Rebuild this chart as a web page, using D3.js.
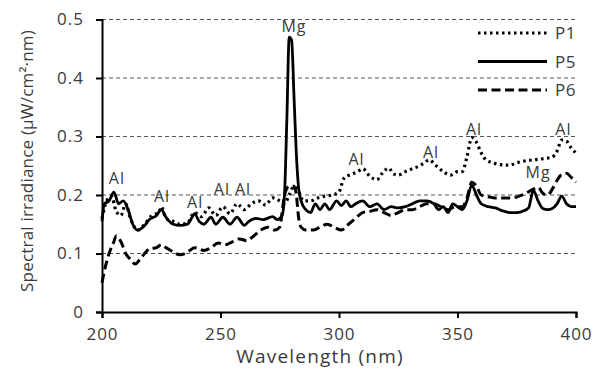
<!DOCTYPE html>
<html>
<head>
<meta charset="utf-8">
<script src="https://cdn.jsdelivr.net/npm/d3@7"></script>
<style>
  body { margin: 0; background: #fff; }
  svg text { font-family: "Open Sans", Lato, sans-serif; fill: #3a3a3a; }
</style>
</head>
<body>
<svg id="chart" width="603" height="369"></svg>
<script>
// wavelength (nm) / irradiance pairs
const p1 = [[200,0.16],[202,0.19],[204,0.198],[206,0.172],[208,0.165],[210,0.185],[212,0.16],[215,0.14],[218,0.15],[221,0.165],[224,0.17],[225,0.18],[227,0.16],[230,0.155],[233,0.15],[236,0.152],[239,0.17],[242,0.163],[245,0.178],[248,0.165],[251,0.18],[254,0.168],[257,0.185],[260,0.175],[263,0.185],[266,0.19],[269,0.183],[272,0.195],[275,0.19],[277,0.185],[279,0.2],[281,0.215],[283,0.205],[285,0.19],[288,0.19],[291,0.195],[294,0.198],[297,0.2],[300,0.205],[302,0.228],[305,0.235],[308,0.24],[310,0.245],[313,0.232],[316,0.226],[318,0.236],[321,0.246],[323,0.236],[325,0.234],[328,0.24],[331,0.245],[334,0.25],[336,0.255],[338,0.26],[341,0.25],[344,0.24],[347,0.234],[350,0.24],[352,0.24],[354,0.265],[356,0.298],[358,0.29],[360,0.272],[362,0.26],[365,0.255],[368,0.252],[372,0.251],[375,0.255],[378,0.258],[382,0.26],[386,0.262],[390,0.265],[392,0.275],[394,0.294],[396,0.292],[398,0.28],[400,0.272]];
const p5 = [[200,0.155],[201,0.185],[203,0.19],[205,0.205],[207,0.185],[209,0.19],[211,0.175],[213,0.15],[215,0.14],[218,0.148],[220,0.158],[223,0.165],[225,0.175],[227,0.162],[230,0.15],[233,0.148],[236,0.15],[238,0.162],[239,0.168],[241,0.155],[243,0.15],[246,0.162],[248,0.15],[251,0.162],[254,0.15],[257,0.162],[260,0.148],[262,0.155],[265,0.16],[268,0.158],[272,0.163],[274,0.158],[276,0.165],[277,0.2],[278,0.33],[279,0.47],[280,0.465],[281,0.37],[282,0.27],[283,0.21],[284,0.19],[286,0.175],[288,0.17],[290,0.185],[292,0.175],[294,0.185],[296,0.175],[299,0.19],[301,0.182],[303,0.19],[305,0.18],[307,0.185],[310,0.19],[313,0.18],[316,0.185],[319,0.175],[322,0.18],[325,0.178],[328,0.18],[331,0.185],[334,0.19],[337,0.19],[340,0.185],[342,0.175],[344,0.18],[346,0.17],[348,0.185],[350,0.18],[352,0.175],[354,0.19],[356,0.217],[358,0.2],[360,0.185],[363,0.18],[366,0.178],[369,0.173],[372,0.17],[375,0.17],[378,0.173],[380,0.178],[382,0.208],[384,0.19],[386,0.177],[388,0.175],[390,0.177],[392,0.185],[394,0.198],[396,0.185],[398,0.18],[400,0.18]];
const p6 = [[200,0.05],[201,0.07],[203,0.1],[205,0.12],[206,0.13],[208,0.12],[210,0.1],[212,0.09],[214,0.082],[216,0.09],[218,0.1],[220,0.108],[223,0.11],[225,0.115],[227,0.11],[229,0.105],[231,0.1],[233,0.098],[235,0.1],[237,0.105],[239,0.11],[241,0.108],[243,0.105],[246,0.11],[249,0.118],[252,0.115],[255,0.12],[258,0.125],[261,0.122],[264,0.13],[267,0.14],[270,0.145],[273,0.14],[275,0.145],[276,0.17],[277,0.2],[279,0.215],[281,0.215],[282,0.2],[283,0.16],[284,0.145],[286,0.14],[289,0.14],[292,0.145],[295,0.15],[298,0.145],[301,0.14],[304,0.15],[307,0.16],[310,0.17],[313,0.172],[316,0.175],[319,0.17],[322,0.165],[325,0.17],[328,0.175],[331,0.175],[334,0.18],[337,0.185],[340,0.185],[343,0.18],[346,0.175],[349,0.18],[352,0.18],[354,0.195],[356,0.222],[358,0.215],[360,0.2],[363,0.197],[366,0.195],[369,0.195],[373,0.195],[376,0.198],[379,0.203],[382,0.21],[384,0.213],[386,0.203],[388,0.2],[390,0.21],[392,0.225],[394,0.235],[396,0.237],[398,0.23],[400,0.222]];

const seriesNames = ['P1', 'P5', 'P6'];
const xTicks = [200, 250, 300, 350, 400];
const yTicks = [0, 0.1, 0.2, 0.3, 0.4, 0.5];

// peak labels: [text, wavelength, irradiance at baseline]
const peakLabels = [['Al',206.3,0.219],['Al',225.3,0.188],['Al',239.3,0.178],['Al',250.6,0.2],['Al',259.5,0.2],['Mg',281,0.478],['Al',307.4,0.251],['Al',338.8,0.263],['Al',357,0.303],['Mg',384,0.229],['Al',394.7,0.303]];

const svg = d3.select('#chart');
const x = d3.scaleLinear().domain([200, 400]).range([102, 576]);
const y = d3.scaleLinear().domain([0, 0.5]).range([312, 19.5]);

// grid
svg.append('g')
   .selectAll('line')
   .data(yTicks.filter(d => d > 0))
   .join('line')
   .attr('x1', x(200)).attr('x2', x(400))
   .attr('y1', d => y(d)).attr('y2', d => y(d))
   .attr('stroke', '#555').attr('stroke-width', 1)
   .attr('stroke-dasharray', '4,3');

const line = d3.line()
               .x(d => x(d[0]))
               .y(d => y(d[1]))
               .curve(d3.curveMonotoneX);

const styles = {
  P1: {dash: '2.5,3.5', width: 3.2},
  P5: {dash: null, width: 2.8},
  P6: {dash: '9,4.5', width: 3}
};
const data = {P1: p1, P5: p5, P6: p6};

seriesNames.forEach(name => {
  svg.append('path')
     .datum(data[name])
     .attr('fill', 'none')
     .attr('stroke', '#000')
     .attr('stroke-width', styles[name].width)
     .attr('stroke-dasharray', styles[name].dash)
     .attr('d', line);
});

// axes
const xAxis = d3.axisBottom(x).tickValues(xTicks).tickSize(6).tickPadding(12).tickFormat(d3.format('d'));
const yAxis = d3.axisLeft(y).tickValues(yTicks).tickSize(6).tickPadding(12).tickFormat(d => d === 0 ? '0' : d3.format('.1f')(d));

const gx = svg.append('g').attr('transform', `translate(0,${y(0)})`).call(xAxis);
const gy = svg.append('g').attr('transform', `translate(${x(200)},0)`).call(yAxis);
[gx, gy].forEach(g => {
  g.select('.domain').attr('stroke', '#000').attr('stroke-width', 2);
  g.selectAll('.tick line').attr('stroke', '#000').attr('stroke-width', 2);
  g.selectAll('.tick text').attr('font-size', 17).attr('fill', '#3a3a3a')
   .attr('letter-spacing', 1)
   .attr('font-family', '"Open Sans", Lato, sans-serif');
});
gx.selectAll('.tick text').attr('dy', '0.6em');

// peak labels
svg.append('g')
   .selectAll('text')
   .data(peakLabels)
   .join('text')
   .attr('x', d => x(d[1]))
   .attr('y', d => y(d[2]))
   .attr('text-anchor', 'middle')
   .attr('font-size', 16)
   .attr('letter-spacing', 1)
   .text(d => d[0]);

// legend
const legend = svg.append('g');
seriesNames.forEach((name, i) => {
  const ly = 33 + i * 28.5;
  legend.append('line')
        .attr('x1', 478).attr('x2', 547)
        .attr('y1', ly).attr('y2', ly)
        .attr('stroke', '#000')
        .attr('stroke-width', styles[name].width)
        .attr('stroke-dasharray', styles[name].dash);
  legend.append('text')
        .attr('x', 555).attr('y', ly + 6)
        .attr('font-size', 17)
        .attr('letter-spacing', 0.5)
        .text(name);
});

// axis titles
svg.append('text')
   .attr('x', 320).attr('y', 363)
   .attr('text-anchor', 'middle')
   .attr('font-size', 19)
   .attr('letter-spacing', 1.2)
   .text('Wavelength (nm)');

svg.append('text')
   .attr('transform', 'translate(33,161) rotate(-90)')
   .attr('text-anchor', 'middle')
   .attr('font-size', 17)
   .attr('letter-spacing', 0.2)
   .text('Spectral irradiance (µW/cm²·nm)');
</script>
</body>
</html>
